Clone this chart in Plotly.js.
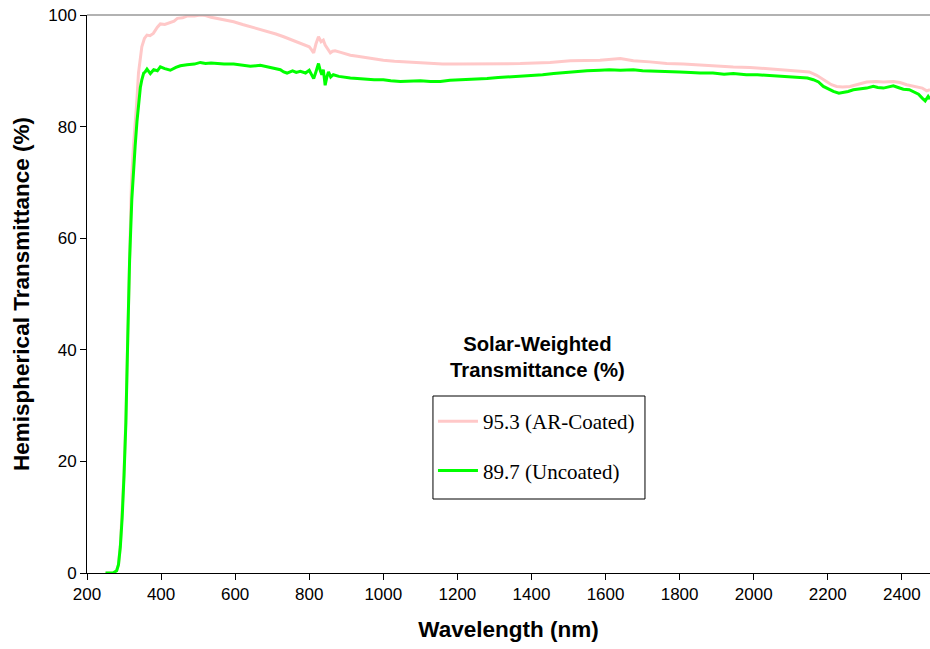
<!DOCTYPE html>
<html>
<head>
<meta charset="utf-8">
<script src="https://cdn.plot.ly/plotly-3.0.1.min.js"></script>
<style>html,body{margin:0;padding:0;background:#fff;}#chart{width:930px;height:649px;}</style>
</head>
<body>
<div id="chart"></div>
<script>
// AR-coated sample
const wlCoated = [250,260,270,280,285,290,295,300,305,310,315,320,325,330,335,339,344,348,355,362,370,379,390,398,410,425,435,444,458,470,490,506,520,535,551,575,596,620,641,665,686,710,731,755,776,790,800,806,812,818,825,832,838,843,850,857,863,870,885,900,911,930,950,975,1000,1030,1060,1092,1127,1160,1200,1240,1280,1320,1370,1410,1450,1505,1550,1585,1640,1675,1720,1765,1810,1855,1900,1945,1990,2035,2080,2125,2150,2170,2185,2197,2210,2224,2240,2260,2280,2305,2330,2350,2377,2395,2413,2440,2455,2467,2476];
const tCoated = [0,0,0,0.4,1.5,4.8,10.5,18,28,44,60,70,76,80,85,89.6,92.5,94.3,95.8,96.4,96.3,96.7,97.8,98.4,98.3,98.6,98.9,99.4,99.5,99.8,99.8,100,99.9,99.6,99.4,99.1,98.8,98.3,97.9,97.5,97.0,96.6,96.1,95.5,95.0,94.6,94.3,93.8,93.2,94.8,96.1,95.2,95.5,94.6,93.8,93.2,93.5,93.6,93.3,93.0,92.8,92.6,92.4,92.1,91.9,91.7,91.6,91.5,91.3,91.2,91.2,91.2,91.3,91.3,91.3,91.4,91.5,91.8,91.9,91.9,92.2,91.8,91.6,91.3,91.2,91.0,90.9,90.7,90.6,90.4,90.2,90.0,89.8,89.2,88.6,88.0,87.5,87.2,87.1,87.2,87.6,88.0,88.1,88.0,88.1,87.9,87.5,87.2,86.9,86.4,86.6];

// Uncoated sample
const wlUncoated = [250,260,270,280,285,290,295,300,305,310,315,321,325,330,335,339,344,348,353,357,362,371,380,390,398,410,425,440,452,470,490,506,520,535,551,570,596,620,641,668,686,700,722,731,740,755,765,776,790,800,806,812,818,825,830,834,838,843,848,852,858,865,880,895,911,930,950,975,1000,1020,1046,1070,1100,1127,1154,1180,1210,1240,1280,1310,1340,1370,1400,1430,1460,1490,1520,1550,1585,1610,1640,1675,1700,1730,1765,1800,1830,1855,1890,1920,1945,1980,2010,2035,2070,2100,2125,2145,2161,2175,2188,2200,2215,2230,2242,2255,2269,2285,2305,2323,2335,2350,2365,2377,2390,2404,2420,2431,2445,2455,2463,2471,2476];
const tUncoated = [0,0,0,0.4,1.5,4.7,10,17.5,27,42,56,67,72,76.5,81,84.2,87,88.4,89.6,89.8,90.3,89.5,90.2,90.0,90.7,90.4,90.1,90.6,90.9,91.1,91.2,91.5,91.3,91.4,91.3,91.2,91.2,91.0,90.8,91.0,90.7,90.6,90.2,89.8,89.6,90.0,89.7,89.9,89.6,90.1,89.4,88.6,89.8,91.3,90.0,89.3,90.2,87.4,89.0,89.8,88.9,89.3,89.0,88.8,88.7,88.6,88.5,88.4,88.4,88.2,88.1,88.2,88.2,88.1,88.1,88.3,88.4,88.4,88.6,88.8,88.9,89.1,89.2,89.3,89.5,89.7,89.8,90.0,90.1,90.2,90.1,90.2,90.0,89.9,89.8,89.8,89.7,89.6,89.6,89.4,89.5,89.3,89.3,89.2,89.1,89.0,88.8,88.7,88.4,88.0,87.2,86.8,86.3,86.0,86.1,86.3,86.6,86.7,86.9,87.2,87.0,86.9,87.1,87.3,87.0,86.7,86.6,86.3,85.8,85.1,84.6,85.4,84.9];

const seriesNames = ["95.3 (AR-Coated)", "89.7 (Uncoated)"];
const legendTitle = "Solar-Weighted<br>Transmittance (%)";
const xTitle = "Wavelength (nm)";
const yTitle = "Hemispherical Transmittance (%)";

const traces = [
  {x: wlCoated, y: tCoated, name: seriesNames[0], type: "scatter", mode: "lines",
   line: {color: "rgb(255,200,200)", width: 3}, legendgroup: "a"},
  {x: wlUncoated, y: tUncoated, name: seriesNames[1], type: "scatter", mode: "lines",
   line: {color: "#00ff00", width: 3}, legendgroup: "b"}
];

const layout = {
  width: 930, height: 649,
  margin: {l: 87, r: 0, t: 15, b: 76},
  paper_bgcolor: "#fff", plot_bgcolor: "#fff",
  font: {family: "Liberation Sans, Arial, sans-serif", color: "#000", size: 17},
  showlegend: true,
  legend: {
    x: 0.4104, y: 0.3082, xanchor: "left", yanchor: "top",
    borderwidth: 0, bgcolor: "rgba(0,0,0,0)",
    font: {family: "Liberation Serif, Times New Roman, serif", size: 21, color: "#000"},
    tracegroupgap: 19, itemwidth: 40
  },
  xaxis: {
    range: [200, 2476], tick0: 200, dtick: 200, ticks: "outside", ticklen: 6,
    tickcolor: "#000", showline: true, linecolor: "#000", linewidth: 1,
    showgrid: false, zeroline: false, tickfont: {size: 17},
    title: {text: xTitle, font: {size: 22.5, family: "Liberation Sans, Arial, sans-serif", weight: "bold"}, standoff: 17}
  },
  yaxis: {
    range: [0, 100], dtick: 20, ticks: "outside", ticklen: 6,
    tickcolor: "#000", showline: true, linecolor: "#000", linewidth: 1,
    showgrid: false, zeroline: false, tickfont: {size: 17},
    title: {text: yTitle, font: {size: 22.5, family: "Liberation Sans, Arial, sans-serif", weight: "bold"}, standoff: 12}
  },
  shapes: [
    {type: "line", xref: "paper", yref: "paper", x0: 0, x1: 1, y0: 1, y1: 1,
     line: {color: "#999", width: 1.5}},
    {type: "rect", xref: "paper", yref: "paper", x0: 0.4104, x1: 0.6619, y0: 0.1326, y1: 0.3172,
     line: {color: "#000", width: 1}, fillcolor: "rgba(0,0,0,0)"}
  ],
  annotations: [
    {text: "<b>" + legendTitle + "</b>", xref: "paper", yref: "paper",
     x: 0.534, y: 0.387, xanchor: "center", yanchor: "middle", showarrow: false,
     align: "center", font: {size: 20.3, family: "Liberation Sans, Arial, sans-serif", color: "#000"}}
  ]
};

Plotly.newPlot("chart", traces, layout, {displayModeBar: false, staticPlot: true});
</script>
</body>
</html>
